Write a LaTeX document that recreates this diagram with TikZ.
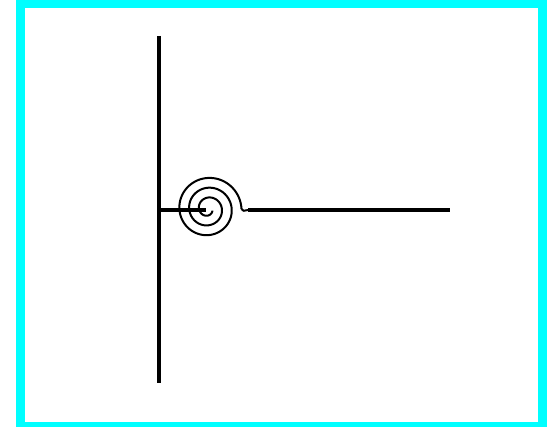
\documentclass[tikz,border=0pt]{standalone}
\definecolor{framecyan}{RGB}{0,255,255}
\begin{document}
\begin{tikzpicture}[x=1pt,y=-1pt,
  heavy/.style={line width=3.6pt,black},
  coil/.style={line width=2pt,black,line join=round}]
\useasboundingbox (0,0) rectangle (547,427);
\fill[white] (0,0) rectangle (547,427);
\fill[framecyan] (16,0) rectangle (547,427);
\fill[white] (25,8) rectangle (538,422);
\coordinate (top) at (159,36);
\coordinate (bot) at (159,383);
\coordinate (joint) at (159,210);
\coordinate (c) at (208,210);
\coordinate (tailA) at (248,210);
\coordinate (tailB) at (450,210);
\draw[heavy] (top) -- (bot);
\draw[heavy] (joint) -- ([xshift=-2pt]c);
\draw[coil] plot[domain=0:1060,samples=300,smooth]
  ({208+(33.5-\x*9.8/360)*cos(\x)},{209-(33.5-\x*9.8/360)*sin(\x)});
\draw[coil] (241.5,209) .. controls (242.5,212) and (244,210.5) .. (tailA);
\draw[heavy] (tailA) -- (tailB);
\end{tikzpicture}
\end{document}
